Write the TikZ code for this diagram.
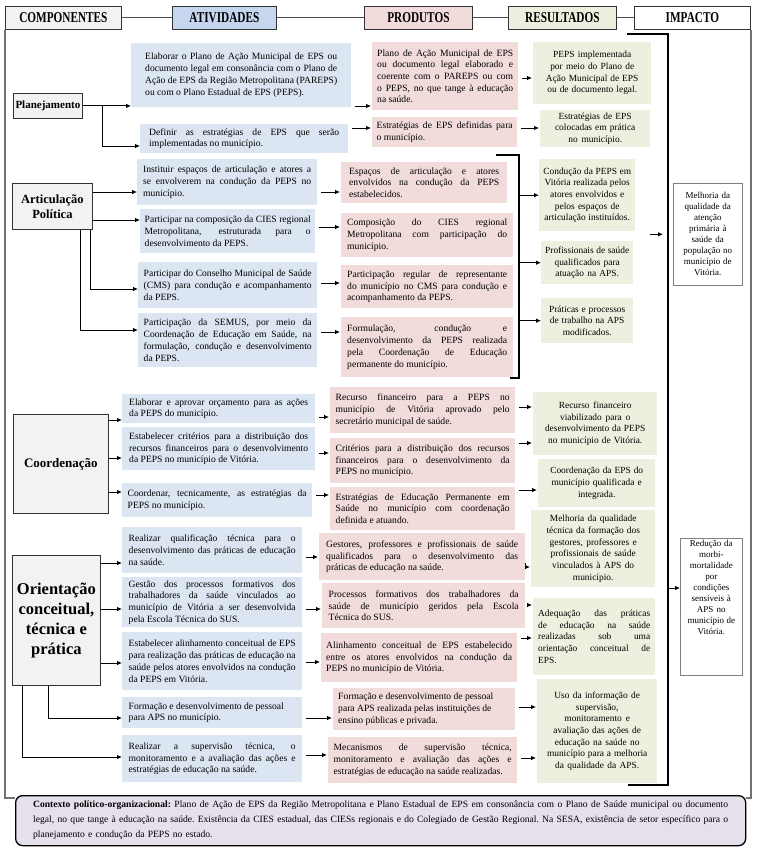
\documentclass[tikz,border=0pt]{standalone}
\usepackage{fontspec}
\setmainfont{Liberation Serif}
\newfontfamily\hdrfont[FakeStretch=0.75]{Liberation Serif}
\usepackage{xcolor}
\usepackage{tikz}
\usetikzlibrary{positioning, arrows.meta, calc}
\definecolor{ativblue}{HTML}{DCE6F2}
\definecolor{ativhead}{HTML}{C6D6EE}
\definecolor{prodpink}{HTML}{F2DCDB}
\definecolor{resgreen}{HTML}{EBF1DE}
\definecolor{compgray}{HTML}{F2F2F2}
\definecolor{ctxlilac}{HTML}{E5E0EC}
% one stretched (justified) line of a box, \jlw is set by the tw style
\newcommand{\jlw}{0pt}
\newcommand{\jl}[1]{\makebox[\jlw][s]{\spaceskip=0.25em plus 1em minus 0.04em\xspaceskip=\spaceskip\relax#1}\\}

\begin{document}
\begin{tikzpicture}[
        x=1pt, y=-1pt,
        wh/.style 2 args={minimum width=#1, minimum height=#2},
        tw/.style={text width=#1, execute at begin node={\def\jlw{#1pt}}},
        box/.style={anchor=north west, inner sep=0pt, align=left, font=\fontsize{9.6}{11.7}\selectfont, execute at begin node={\spaceskip=0pt\xspaceskip=0pt}},
        ativ/.style={box, fill=ativblue},
        prod/.style={box, fill=prodpink},
        res/.style={box, fill=resgreen, align=center, font=\fontsize{9.4}{11.7}\selectfont},
        imp/.style={box, fill=white, draw=black!50, line width=0.6pt, align=center, font=\fontsize{9}{11}\selectfont},
        comp/.style={anchor=north west, draw=black!80, line width=0.8pt, fill=compgray, align=center, inner sep=0pt},
        hdr/.style={anchor=north west, draw=black!80, line width=0.8pt, minimum height=23, inner sep=0pt, font=\hdrfont\bfseries\fontsize{15}{15}\selectfont},
        ctx/.style={anchor=north west, draw, line width=1.3pt, rounded corners=7pt, fill=ctxlilac, inner sep=0pt, align=left, font=\fontsize{9.6}{15}\selectfont},
        arr/.style={-{Latex[length=5pt,width=4.5pt]}, line width=0.8pt},
        link/.style={arr, shorten <=4pt, shorten >=1pt},
        brk/.style={line width=1.1pt},
        hline/.style={black!70, line width=0.8pt},
        frame/.style={black!55, line width=1.5pt}
    ]
        \useasboundingbox (0,0) rectangle (759,850);

        % Header
        \node[hdr, fill=compgray, minimum width=116] (hcomp) at (5,6) {COMPONENTES};
        \node[hdr, fill=ativhead, minimum width=104] (hativ) at (172,6) {ATIVIDADES};
        \node[hdr, fill=prodpink, minimum width=108] (hprod) at (364,6) {PRODUTOS};
        \node[hdr, fill=resgreen, minimum width=108] (hres) at (508,6) {RESULTADOS};
        \node[hdr, fill=white, minimum width=116] (himp) at (634,6) {IMPACTO};
        \draw[hline] (hcomp) -- (hativ) -- (hprod) -- (hres) -- (himp);

        % Planejamento
        \node[comp, wh={69}{25}, font=\bfseries\fontsize{11}{12}\selectfont] (plan) at (13,93) {Planejamento};
        \node[ativ, wh={220}{64}, tw=192] (a1) at (131,43) {\jl{Elaborar o Plano de Ação Municipal de EPS ou}\jl{documento legal em consonância com o Plano de}\jl{Ação de EPS da Região Metropolitana (PAREPS)}ou com o Plano Estadual de EPS (PEPS).};
        \node[ativ, wh={208}{29}, tw=190] (a2) at (140,124) {\jl{Definir as estratégias de EPS que serão}implementadas no município.};
        \node[prod, wh={146}{68}, tw=136] (p1) at (372,42) {\jl{Plano de Ação Municipal de EPS}\jl{ou documento legal elaborado e}\jl{coerente com o PAREPS ou com}\jl{o PEPS, no que tange à educação}na saúde.};
        \node[prod, wh={145}{30}, tw=136] (p2) at (372,117) {\jl{Estratégias de EPS definidas para}o município.};
        \node[res, wh={118}{62}, text width=112] (r1) at (533,42) {PEPS implementada\\por meio do Plano de\\Ação Municipal de EPS\\ou de documento legal.};
        \node[res, wh={110}{37}, text width=104] (r2) at (540,110) {Estratégias de EPS\\colocadas em prática\\no município.};

        % Articulação Política
        \node[comp, wh={80}{46}, font=\bfseries\fontsize{12.5}{15}\selectfont] (artic) at (12,183) {Articulação\\Política};
        \node[ativ, wh={180}{46}, tw=168] (b1) at (137,159) {\jl{Instituir espaços de articulação e atores a}\jl{se envolverem na condução da PEPS no}município.};
        \node[ativ, wh={175}{44}, tw=166] (b2) at (140,209) {\jl{Participar na composição da CIES regional}\jl{Metropolitana, estruturada para o}desenvolvimento da PEPS.};
        \node[ativ, wh={179}{46}, tw=168] (b3) at (138,262) {\jl{Participar do Conselho Municipal de Saúde}\jl{(CMS) para condução e acompanhamento}da PEPS.};
        \node[ativ, wh={179}{54}, tw=168] (b4) at (138,313) {\jl{Participação da SEMUS, por meio da}\jl{Coordenação de Educação em Saúde, na}\jl{formulação, condução e desenvolvimento}da PEPS.};
        \node[prod, wh={166}{41}, tw=150] (q1) at (341,162) {\jl{Espaços de articulação e atores}\jl{envolvidos na condução da PEPS}estabelecidos.};
        \node[prod, wh={172}{44}, tw=160] (q2) at (341,213) {\jl{Composição do CIES regional}\jl{Metropolitana com participação do}município.};
        \node[prod, wh={172}{43}, tw=160] (q3) at (341,265) {\jl{Participação regular de representante}\jl{do município no CMS para condução e}acompanhamento da PEPS.};
        \node[prod, wh={172}{60}, tw=160] (q4) at (341,317) {\jl{Formulação, condução e}\jl{desenvolvimento da PEPS realizada}\jl{pela Coordenação de Educação}permanente do município.};
        \node[res, wh={94}{72}, text width=96] (s1) at (539,159) {Condução da PEPS em\\Vitória realizada pelos\\atores envolvidos e\\pelos espaços de\\articulação instituídos.};
        \node[res, wh={92}{43}, text width=92] (s2) at (541,241) {Profissionais de saúde\\qualificados para\\atuação na APS.};
        \node[res, wh={92}{45}, text width=92] (s3) at (541,298) {Práticas e processos\\de trabalho na APS\\modificados.};

        % Coordenação
        \node[comp, wh={95}{99}, font=\bfseries\fontsize{13}{15}\selectfont] (coord) at (13,414) {Coordenação};
        \node[ativ, wh={193}{29}, tw=179] (c1) at (122,394) {\jl{Elaborar e aprovar orçamento para as ações}da PEPS do município.};
        \node[ativ, wh={193}{43}, tw=179] (c2) at (122,427) {\jl{Estabelecer critérios para a distribuição dos}\jl{recursos financeiros para o desenvolvimento}da PEPS no município de Vitória.};
        \node[ativ, wh={190}{34}, tw=179] (c3) at (122,483) {\jl{Coordenar, tecnicamente, as estratégias da}PEPS no município.};
        \node[prod, wh={185}{46}, tw=174] (d1) at (330,387) {\jl{Recurso financeiro para a PEPS no}\jl{município de Vitória aprovado pelo}secretário municipal de saúde.};
        \node[prod, wh={185}{45}, tw=174] (d2) at (330,438) {\jl{Critérios para a distribuição dos recursos}\jl{financeiros para o desenvolvimento da}PEPS no município.};
        \node[prod, wh={185}{43}, tw=174] (d3) at (330,487) {\jl{Estratégias de Educação Permanente em}\jl{Saúde no município com coordenação}definida e atuando.};
        \node[res, wh={124}{63}, text width=118] (t1) at (533,392) {Recurso financeiro\\viabilizado para o\\desenvolvimento da PEPS\\no município de Vitória.};
        \node[res, wh={117}{48}, text width=112] (t2) at (538,459) {Coordenação da EPS do\\município qualificada e\\integrada.};

        % Orientação conceitual, técnica e prática
        \node[comp, wh={88}{130}, font=\bfseries\fontsize{16.5}{20}\selectfont] (orient) at (12,555) {Orientação\\conceitual,\\técnica e\\prática};
        \node[ativ, wh={180}{46}, tw=167] (e1) at (122,527) {\jl{Realizar qualificação técnica para o}\jl{desenvolvimento das práticas de educação}na saúde.};
        \node[ativ, wh={180}{50}, tw=167] (e2) at (122,577) {\jl{Gestão dos processos formativos dos}\jl{trabalhadores da saúde vinculados ao}\jl{município de Vitória a ser desenvolvida}pela Escola Técnica do SUS.};
        \node[ativ, wh={180}{58}, tw=167] (e3) at (122,632) {\jl{Estabelecer alinhamento conceitual de EPS}\jl{para realização das práticas de educação na}\jl{saúde pelos atores envolvidos na condução}da PEPS em Vitória.};
        \node[ativ, wh={180}{31}, tw=167] (e4) at (122,697) {Formação e desenvolvimento de pessoal\\para APS no município.};
        \node[ativ, wh={180}{47}, tw=167] (e5) at (122,735) {\jl{Realizar a supervisão técnica, o}\jl{monitoramento e a avaliação das ações e}estratégias de educação na saúde.};
        \node[prod, wh={206}{47}, tw=192] (f1) at (319,533) {\jl{Gestores, professores e profissionais de saúde}\jl{qualificados para o desenvolvimento das}práticas de educação na saúde.};
        \node[prod, wh={203}{45}, tw=190] (f2) at (322,583) {\jl{Processos formativos dos trabalhadores da}\jl{saúde de município geridos pela Escola}Técnica do SUS.};
        \node[prod, wh={196}{49}, tw=186] (f3) at (321,633) {\jl{Alinhamento conceitual de EPS estabelecido}\jl{entre os atores envolvidos na condução da}PEPS no município de Vitória.};
        \node[prod, wh={182}{42}, tw=172] (f4) at (333,688) {Formação e desenvolvimento de pessoal\\para APS realizada pelas instituições de\\ensino públicas e privada.};
        \node[prod, wh={189}{46}, tw=178] (f5) at (328,737) {\jl{Mecanismos de supervisão técnica,}\jl{monitoramento e avaliação das ações e}estratégias de educação na saúde realizadas.};
        \node[res, wh={124}{77}, text width=118] (u1) at (531,510) {Melhoria da qualidade\\técnica da formação dos\\gestores, professores e\\profissionais de saúde\\vinculados à APS do\\município.};
        \node[res, wh={122}{77}, tw=112, align=left] (u2) at (533,598) {\jl{Adequação das práticas}\jl{de educação na saúde}\jl{realizadas sob uma}\jl{orientação conceitual de}EPS.};
        \node[res, wh={120}{104}, text width=116] (u3) at (537,679) {Uso da informação de\\supervisão,\\monitoramento e\\avaliação das ações de\\educação na saúde no\\município para a melhoria\\da qualidade da APS.};

        % Impacto
        \node[imp, wh={69}{102}, text width=65] (m1) at (673,183) {Melhoria da\\qualidade da\\atenção\\primária à\\saúde da\\população no\\município de\\Vitória.};
        \node[imp, wh={62}{137}, text width=58] (m2) at (680,538) {Redução da\\morbi-\\mortalidade\\por\\condições\\sensíveis à\\APS no\\município de\\Vitória.\\[28pt]\mbox{}};

        % Context
        \node[ctx, wh={730}{50}, tw=695] (ctx) at (15,795) {\jl{\textbf{Contexto político-organizacional:} Plano de Ação de EPS da Região Metropolitana e Plano Estadual de EPS em consonância com o Plano de Saúde municipal ou documento}\jl{legal, no que tange à educação na saúde. Existência da CIES estadual, das CIESs regionais e do Colegiado de Gestão Regional. Na SESA, existência de setor específico para o}planejamento e condução da PEPS no estado.};

        % Outer frame
        \draw[frame] (hcomp.south west) |- (ctx.west |- 0,798);
        \draw[frame] (himp.south east) |- (ctx.east |- 0,798);

        % Arrows: components to activities
        \draw[arr] (plan.east) -- (plan.east -| a1.west);
        \draw[arr] (102,0 |- plan.east) |- (a2.west |- 0,146);
        \draw[arr] (artic.east |- 0,192) -- (b1.west |- 0,192);
        \draw[arr] (artic.east |- 0,220) -- (b2.west |- 0,220);
        \draw[arr] (90,0 |- artic.south) |- (b3.west |- 0,289);
        \draw[arr] (80,0 |- artic.south) |- (b4.west |- 0,330);
        \draw[arr] (coord.east |- 0,420) -- (c1.west |- 0,420);
        \draw[arr] (coord.east |- 0,458) -- (c2.west |- 0,458);
        \draw[arr] (coord.east |- 0,492) -- (c3.west |- 0,492);
        \draw[arr] (orient.east |- 0,563) -- (e1.west |- 0,563);
        \draw[arr] (orient.east |- 0,609) -- (e2.west |- 0,609);
        \draw[arr] (orient.east |- 0,663) -- (e3.west |- 0,663);
        \draw[arr] (48,0 |- orient.south) |- (e4.west |- 0,718);
        \draw[arr] (22,0 |- orient.south) |- (e5.west |- 0,757);

        % Arrows: activities to products
        \draw[link] (a1.east |- 0,106) -- (p1.west |- 0,106);
        \draw[link] (a2.east |- 0,128) -- (p2.west |- 0,128);
        \draw[link] (b1.east |- 0,192) -- (q1.west |- 0,192);
        \draw[link] (b2.east |- 0,227) -- (q2.west |- 0,227);
        \draw[link] (b3.east |- 0,283) -- (q3.west |- 0,283);
        \draw[link] (b4.east |- 0,332) -- (q4.west |- 0,332);
        \draw[link] (c1.east |- 0,417) -- (d1.west |- 0,417);
        \draw[link] (c2.east |- 0,453) -- (d2.west |- 0,453);
        \draw[link] (c3.east |- 0,495) -- (d3.west |- 0,495);
        \draw[link] (e1.east |- 0,557) -- (f1.west |- 0,557);
        \draw[link] (e2.east |- 0,609) -- (f2.west |- 0,609);
        \draw[link] (e3.east |- 0,662) -- (f3.west |- 0,662);
        \draw[link] (e4.east |- 0,718) -- (f4.west |- 0,718);
        \draw[link] (e5.east |- 0,755) -- (f5.west |- 0,755);

        % Arrows: products to results
        \draw[link] (p1.east |- 0,78) -- (r1.west |- 0,78);
        \draw[link] (p2.east |- 0,128) -- (r2.west |- 0,128);
        \coordinate (qtop) at (496,155);
        \coordinate (qbot) at (510,378);
        \draw[brk] (qtop) -| (519,378) -- (qbot);
        \draw[arr] (519,0 |- s1.west) -- (s1.west);
        \draw[arr] (519,0 |- s2.west) -- (s2.west);
        \draw[arr] (519,0 |- s3.west) -- (s3.west);
        \draw[link] (d1.east |- 0,407) -- (t1.west |- 0,407);
        \draw[link] (d2.east |- 0,443) -- (t1.west |- 0,443);
        \draw[link] (d3.east |- 0,490) -- (t2.west |- 0,490);
        \draw[link] (f1.east |- 0,567) -- (u1.west |- 0,567);
        \draw[link] (f2.east |- 0,605) -- (u2.west |- 0,605);
        \draw[link] (f3.east |- 0,638) -- (u2.west |- 0,638);
        \draw[link] (f4.east |- 0,707) -- (u3.west |- 0,707);
        \draw[link] (f5.east |- 0,758) -- (u3.west |- 0,758);

        % Results to impact
        \coordinate (rtop) at (627,34);
        \coordinate (rbot) at (628,785);
        \draw[brk] (rtop) -| (668,785) -- (rbot);
        \draw[arr] ([xshift=-23pt]m1.west) -- ([xshift=-10pt]m1.west);
        \draw[arr] (668,0 |- 0,588) -- (m2.west |- 0,588);
    \end{tikzpicture}
\end{document}
